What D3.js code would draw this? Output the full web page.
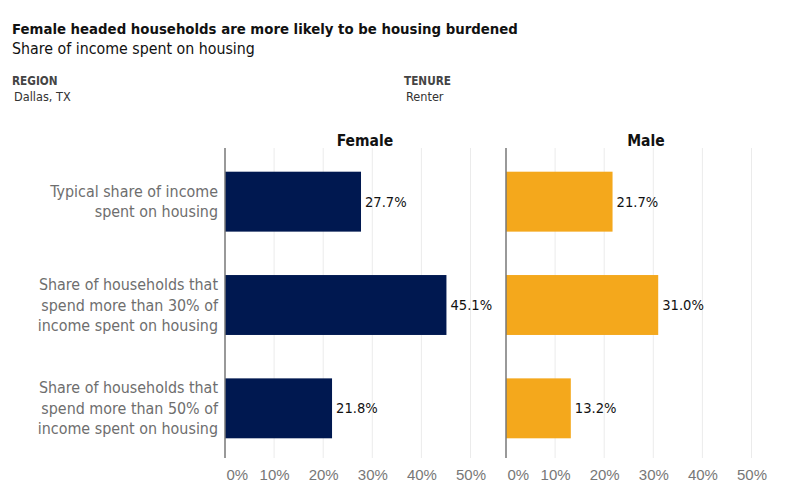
<!DOCTYPE html>
<html><head><meta charset="utf-8">
<script src="https://cdn.jsdelivr.net/npm/d3@7"></script>
<style>
body{margin:0;background:#fff;}
svg{display:block;font-family:"DejaVu Sans Condensed","DejaVu Sans",sans-serif;}
</style></head>
<body><svg id="c" width="799" height="499"></svg>
<script>
const categories = [
  ["Typical share of income","spent on housing"],
  ["Share of households that","spend more than 30% of","income spent on housing"],
  ["Share of households that","spend more than 50% of","income spent on housing"]
];
const panels = ["Female","Male"];
const femaleValues = [27.7, 45.1, 21.8];
const maleValues = [21.7, 31.0, 13.2];
const tickValues = [0,10,20,30,40,50];
const colors = {Female:"#001850", Male:"#f4a81c"};

(function(){
const svg = d3.select("#c");
svg.append("text").attr("x",12).attr("y",34).attr("font-size",14.8).attr("font-weight","bold").attr("fill","#111")
  .text("Female headed households are more likely to be housing burdened");
svg.append("text").attr("x",12).attr("y",54).attr("font-size",15.8).attr("fill","#111")
  .text("Share of income spent on housing");
[[12,"REGION","Dallas, TX"],[404,"TENURE","Renter"]].forEach(([x,a,b])=>{
  svg.append("text").attr("x",x).attr("y",85).attr("font-size",11.7).attr("font-weight","bold").attr("fill","#444").text(a);
  svg.append("text").attr("x",x+2).attr("y",101).attr("font-size",12.6).attr("fill","#333").text(b);
});

const plotTop = 148, plotBottom = 458;
const y = d3.scaleBand().domain(d3.range(categories.length)).range([plotTop+2, plotBottom+2]).paddingInner(0.42).paddingOuter(0.21);
const panelX = {Female:225, Male:506};
const valuesBy = {Female: femaleValues, Male: maleValues};

panels.forEach(p=>{
  const x0 = panelX[p];
  const x = d3.scaleLinear().domain([0,55]).range([x0, x0 + 55*4.91]);
  const g = svg.append("g");
  g.selectAll("line.grid").data(tickValues.slice(1)).join("line")
    .attr("x1",d=>x(d)).attr("x2",d=>x(d)).attr("y1",plotTop).attr("y2",plotBottom)
    .attr("stroke","#ebebeb").attr("stroke-width",1);
  g.selectAll("rect").data(valuesBy[p]).join("rect")
    .attr("x",x(0)).attr("y",(d,i)=>y(i)).attr("width",d=>x(d)-x(0)).attr("height",y.bandwidth())
    .attr("fill",colors[p]);
  g.selectAll("text.val").data(valuesBy[p]).join("text")
    .attr("x",d=>x(d)+4).attr("y",(d,i)=>y(i)+y.bandwidth()/2+5).attr("font-size",14.6).attr("fill","#111")
    .text(d=>d.toFixed(1)+"%");
  g.append("line").attr("x1",x(0)).attr("x2",x(0)).attr("y1",plotTop).attr("y2",plotBottom).attr("stroke","#777").attr("stroke-width",1.5);
  const ax = svg.append("g").attr("transform",`translate(0,${plotBottom})`)
    .call(d3.axisBottom(x).tickValues(tickValues).tickFormat(d=>d+"%").tickSize(0).tickPadding(11));
  ax.select(".domain").remove();
  ax.selectAll("text").attr("font-size",15).attr("fill","#777").attr("font-family","inherit");
  ax.selectAll(".tick").filter(d=>d===0).select("text").attr("text-anchor","start").attr("dx",1);
  svg.append("text").attr("x",x0+140).attr("y",146).attr("text-anchor","middle").attr("font-size",15.5).attr("font-weight","bold").attr("fill","#111").text(p);
});

categories.forEach((lines,i)=>{
  const cy = y(i)+y.bandwidth()/2;
  const lh = 20.5;
  const t = svg.append("text").attr("text-anchor","end").attr("font-size",15.9).attr("fill","#6e6e6e");
  lines.forEach((l,j)=>{
    t.append("tspan").attr("x",218).attr("y",cy + (j-(lines.length-1)/2)*lh + 5.5).text(l);
  });
});
})();
</script></body></html>
